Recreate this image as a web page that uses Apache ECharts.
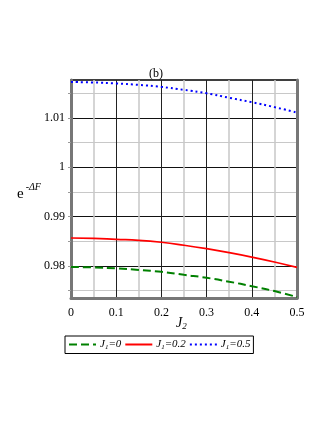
<!DOCTYPE html>
<html>
<head>
<meta charset="utf-8">
<script src="https://cdn.jsdelivr.net/npm/echarts@6/dist/echarts.min.js"></script>
<style>
  html, body { margin: 0; padding: 0; background: #fff; }
</style>
</head>
<body>
<div id="echart-line" style="width:327px;height:423px;"></div>
<script>
// J2 values
const xData = [0, 0.05, 0.1, 0.15, 0.2, 0.25, 0.3, 0.35, 0.4, 0.45, 0.5];
// e^-dF for J1 = 0, 0.2, 0.5
const yJ0 = [0.9798, 0.9797, 0.9795, 0.9792, 0.9788, 0.9782, 0.9776, 0.9768, 0.9759, 0.9749, 0.9737];
const yJ02 = [0.98567, 0.9856, 0.9854, 0.9852, 0.9848, 0.9842, 0.9835, 0.9827, 0.9818, 0.9808, 0.9797];
const yJ05 = [1.0173, 1.0172, 1.0170, 1.0167, 1.0163, 1.0157, 1.0150, 1.0141, 1.0132, 1.0122, 1.0111];
const header = ['J1=0', 'J1=0.2', 'J1=0.5'];
// y tick labels, and all horizontal grid lines (light / dark alternating)
const yLabels = [0.98, 0.99, 1, 1.01];
const yGridLines = [0.975, 0.98, 0.985, 0.99, 0.995, 1, 1.005, 1.01, 1.015];

const yMin = 0.9735, yMax = 1.0177;
const serif = '"Liberation Serif", "DejaVu Serif", serif';

function pairs(ys) {
  return xData.map((x, i) => [x, ys[i]]);
}

const legendRich = {
  i: { fontFamily: serif, fontStyle: 'italic', fontSize: 11, color: '#000' },
  s: { fontFamily: serif, fontStyle: 'italic', fontSize: 7, color: '#000', verticalAlign: 'bottom', padding: [5, 0, 0, 0] }
};

let getchart = echarts.init(document.getElementById('echart-line'));
let option = {
  animation: false,
  grid: {
    left: 71,
    right: 30,
    top: 80,
    bottom: 125,
    show: true,
    borderColor: '#000',
    borderWidth: 1.5
  },
  legend: {
    data: header,
    left: 65,
    top: 336,
    orient: 'horizontal',
    padding: [3, 3, 3, 3],
    itemGap: 3,
    itemWidth: 27,
    itemHeight: 10,
    borderColor: '#000',
    borderWidth: 1,
    itemStyle: { opacity: 0 },
    textStyle: { rich: legendRich, fontFamily: serif, padding: [0, 0, 0, -1] },
    formatter: function (name) {
      const v = name.split('=')[1];
      return '{i|J}{s|1}{i|=' + v + '}';
    }
  },
  xAxis: [
    {
      type: 'value',
      min: 0,
      max: 0.5,
      interval: 0.1,
      axisLine: { show: true, lineStyle: { color: '#777', width: 3 } },
      axisTick: { show: false },
      minorTick: { show: false, splitNumber: 2 },
      minorSplitLine: { show: true, lineStyle: { color: '#c8c8c8', width: 1.5 } },
      splitLine: { show: true, lineStyle: { color: '#222', width: 1 } },
      axisLabel: { margin: 9, fontFamily: serif, fontSize: 12, color: '#000' }
    }
  ],
  yAxis: [
    {
      type: 'value',
      min: yMin,
      max: yMax,
      axisLine: { show: true, lineStyle: { color: '#777', width: 3 } },
      axisTick: { show: true, length: 3, lineStyle: { color: '#999' }, customValues: yGridLines },
      splitLine: { show: true, lineStyle: { color: ['#c8c8c8', '#111'], width: 1.2 } },
      axisLabel: {
        customValues: yLabels,
        margin: 6,
        fontFamily: serif,
        fontSize: 12,
        color: '#000'
      }
    },
    {
      // right border
      type: 'value',
      position: 'right',
      min: yMin,
      max: yMax,
      axisLine: { show: true, lineStyle: { color: '#777', width: 3 } },
      axisTick: { show: false },
      axisLabel: { show: false },
      splitLine: { show: false }
    }
  ],
  graphic: [
    {
      type: 'text',
      left: 149,
      top: 68,
      style: { text: '(b)', font: '12px ' + serif, fill: '#000' }
    },
    {
      type: 'text',
      left: 17,
      top: 182,
      style: {
        text: '{e|e}{s|-ΔF}',
        rich: {
          e: { fontFamily: serif, fontSize: 15, color: '#000', padding: [14, 2, 0, 0] },
          s: { fontFamily: serif, fontStyle: 'italic', fontSize: 10, color: '#000' }
        }
      }
    },
    {
      type: 'text',
      left: 176,
      top: 316,
      style: {
        text: '{i|J}{s|2}',
        rich: {
          i: { fontFamily: serif, fontStyle: 'italic', fontSize: 14, color: '#000' },
          s: { fontFamily: serif, fontStyle: 'italic', fontSize: 9, color: '#000', padding: [7, 0, 0, 0] }
        }
      }
    }
  ],
  series: [
    {
      name: header[0],
      type: 'line',
      data: pairs(yJ0),
      smooth: true,
      symbol: 'none',
      z: 5,
      lineStyle: { color: '#008000', width: 2, type: [8, 4] },
      itemStyle: { color: '#008000' }
    },
    {
      name: header[1],
      type: 'line',
      data: pairs(yJ02),
      smooth: true,
      symbol: 'none',
      z: 5,
      lineStyle: { color: '#ff0000', width: 1.7 },
      itemStyle: { color: '#ff0000' }
    },
    {
      name: header[2],
      type: 'line',
      data: pairs(yJ05),
      smooth: true,
      symbol: 'none',
      z: 5,
      lineStyle: { color: '#0000ff', width: 2, type: [2, 3] },
      itemStyle: { color: '#0000ff' }
    }
  ]
};

getchart.setOption(option);
</script>
</body>
</html>
